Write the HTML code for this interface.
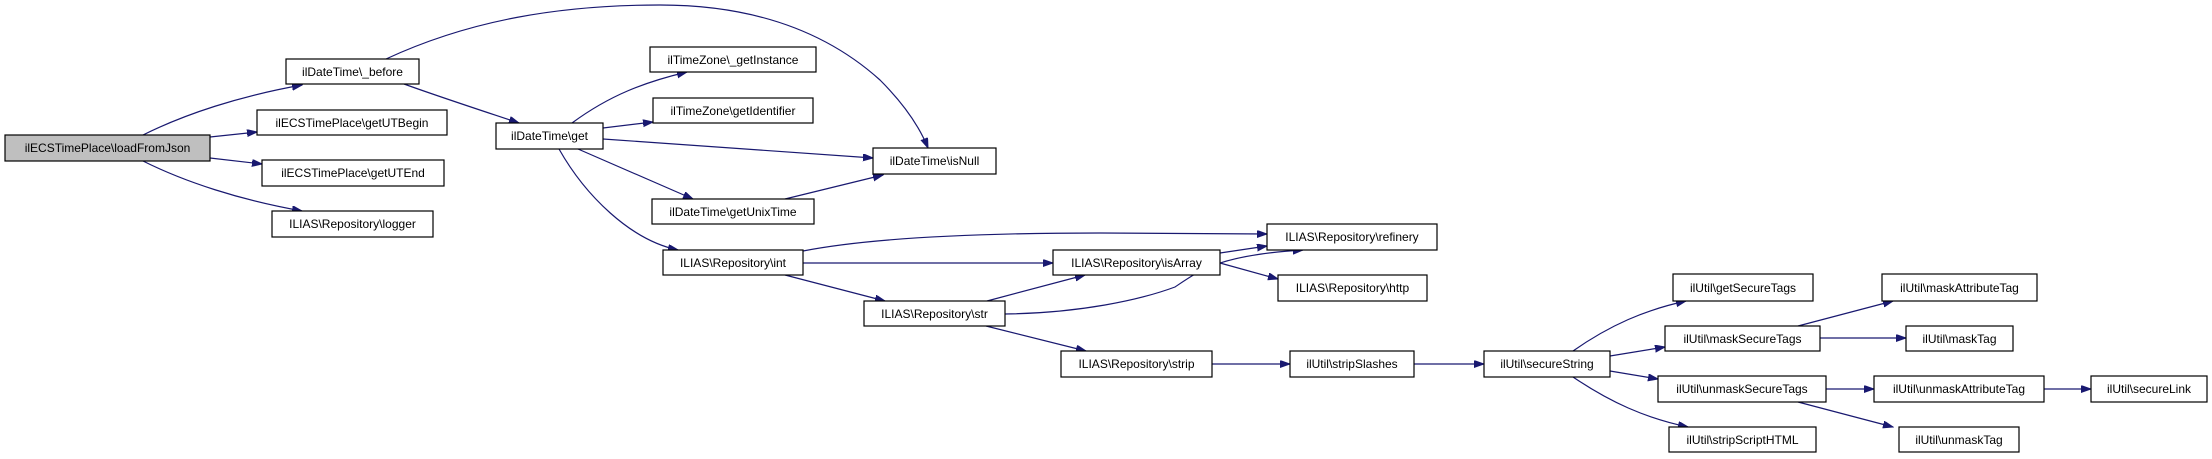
<!DOCTYPE html>
<html><head><meta charset="utf-8"><style>
html,body{margin:0;padding:0;background:#fff;}
svg{display:block;}
text{font-family:"Liberation Sans",Arial,sans-serif;font-size:12px;fill:#000;}
</style></head><body>
<svg width="2212" height="459" viewBox="0 0 2212 459" xmlns="http://www.w3.org/2000/svg">
<defs>
<marker id="a" markerUnits="userSpaceOnUse" markerWidth="11" markerHeight="8" refX="10" refY="3.5" orient="auto">
<path d="M0,0 L10,3.5 L0,7 z" fill="#191970" stroke="#191970" stroke-width="1"/>
</marker>
</defs>
<g fill="none" stroke="#191970" stroke-width="1.2" marker-end="url(#a)">
<path d="M143,135 C185,114 240,96 302,85"/>
<path d="M210,137 L257,132"/>
<path d="M210,158 L262,164"/>
<path d="M143,161 C185,182 240,200 302,211"/>
<path d="M404,84 C440,97 480,110 519,123"/>
<path d="M386,59 C470,20 560,5 660,5 C760,5 830,35 880,80 C905,105 920,128 928,148"/>
<path d="M572,123 C610,95 645,82 687,72"/>
<path d="M603,128 L653,122"/>
<path d="M603,139 L873,158"/>
<path d="M578,149 L693,199"/>
<path d="M559,149 C585,195 630,240 678,250"/>
<path d="M785,199 L883,175"/>
<path d="M803,251 C880,236 1000,233 1100,233 L1267,234"/>
<path d="M803,263 L1053,263"/>
<path d="M785,275 L885,301"/>
<path d="M987,301 L1085,275"/>
<path d="M1005,314 C1080,313 1140,300 1175,287 C1200,270 1220,255 1303,250"/>
<path d="M1220,253 L1267,246"/>
<path d="M1220,263 L1278,279"/>
<path d="M986,326 L1086,351"/>
<path d="M1212,364 L1290,364"/>
<path d="M1414,364 L1484,364"/>
<path d="M1573,351 C1610,325 1645,310 1686,301"/>
<path d="M1610,356 L1665,347"/>
<path d="M1610,371 L1658,379"/>
<path d="M1573,377 C1610,402 1645,418 1688,427"/>
<path d="M1798,326 L1893,301"/>
<path d="M1820,338 L1906,338"/>
<path d="M1826,389 L1874,389"/>
<path d="M1798,402 L1893,427"/>
<path d="M2044,389 L2091,389"/>
</g>
<g stroke="#000" stroke-width="1.2" fill="#fff">
<rect x="5" y="135" width="205" height="26" fill="#bfbfbf"/>
<rect x="286" y="59" width="133" height="25"/>
<rect x="257" y="110" width="190" height="25"/>
<rect x="262" y="160" width="182" height="26"/>
<rect x="272" y="211" width="161" height="26"/>
<rect x="496" y="123" width="107" height="26"/>
<rect x="650" y="47" width="166" height="25"/>
<rect x="653" y="98" width="160" height="25"/>
<rect x="873" y="148" width="123" height="26"/>
<rect x="652" y="199" width="162" height="25"/>
<rect x="663" y="250" width="140" height="25"/>
<rect x="1267" y="224" width="170" height="26"/>
<rect x="1053" y="250" width="167" height="25"/>
<rect x="1278" y="275" width="149" height="26"/>
<rect x="864" y="301" width="141" height="25"/>
<rect x="1061" y="351" width="151" height="26"/>
<rect x="1290" y="351" width="124" height="26"/>
<rect x="1484" y="351" width="126" height="26"/>
<rect x="1673" y="274" width="140" height="27"/>
<rect x="1665" y="326" width="155" height="25"/>
<rect x="1658" y="376" width="168" height="26"/>
<rect x="1669" y="427" width="147" height="25"/>
<rect x="1882" y="274" width="155" height="27"/>
<rect x="1906" y="326" width="107" height="25"/>
<rect x="1874" y="376" width="170" height="26"/>
<rect x="2091" y="376" width="116" height="26"/>
<rect x="1899" y="427" width="120" height="25"/>
</g>
<g text-anchor="middle">
<text x="107.5" y="152">ilECSTimePlace\loadFromJson</text>
<text x="352.5" y="76">ilDateTime\_before</text>
<text x="352" y="127">ilECSTimePlace\getUTBegin</text>
<text x="353" y="177">ilECSTimePlace\getUTEnd</text>
<text x="352.5" y="228">ILIAS\Repository\logger</text>
<text x="549.5" y="140">ilDateTime\get</text>
<text x="733" y="64">ilTimeZone\_getInstance</text>
<text x="733" y="115">ilTimeZone\getIdentifier</text>
<text x="934.5" y="165">ilDateTime\isNull</text>
<text x="733" y="216">ilDateTime\getUnixTime</text>
<text x="733" y="267">ILIAS\Repository\int</text>
<text x="1352" y="241">ILIAS\Repository\refinery</text>
<text x="1136.5" y="267">ILIAS\Repository\isArray</text>
<text x="1352.5" y="292">ILIAS\Repository\http</text>
<text x="934.5" y="318">ILIAS\Repository\str</text>
<text x="1136.5" y="368">ILIAS\Repository\strip</text>
<text x="1352" y="368">ilUtil\stripSlashes</text>
<text x="1547" y="368">ilUtil\secureString</text>
<text x="1743" y="292">ilUtil\getSecureTags</text>
<text x="1742.5" y="343">ilUtil\maskSecureTags</text>
<text x="1742" y="393">ilUtil\unmaskSecureTags</text>
<text x="1742.5" y="444">ilUtil\stripScriptHTML</text>
<text x="1959.5" y="292">ilUtil\maskAttributeTag</text>
<text x="1959.5" y="343">ilUtil\maskTag</text>
<text x="1959" y="393">ilUtil\unmaskAttributeTag</text>
<text x="2149" y="393">ilUtil\secureLink</text>
<text x="1959" y="444">ilUtil\unmaskTag</text>
</g>
</svg>
</body></html>
